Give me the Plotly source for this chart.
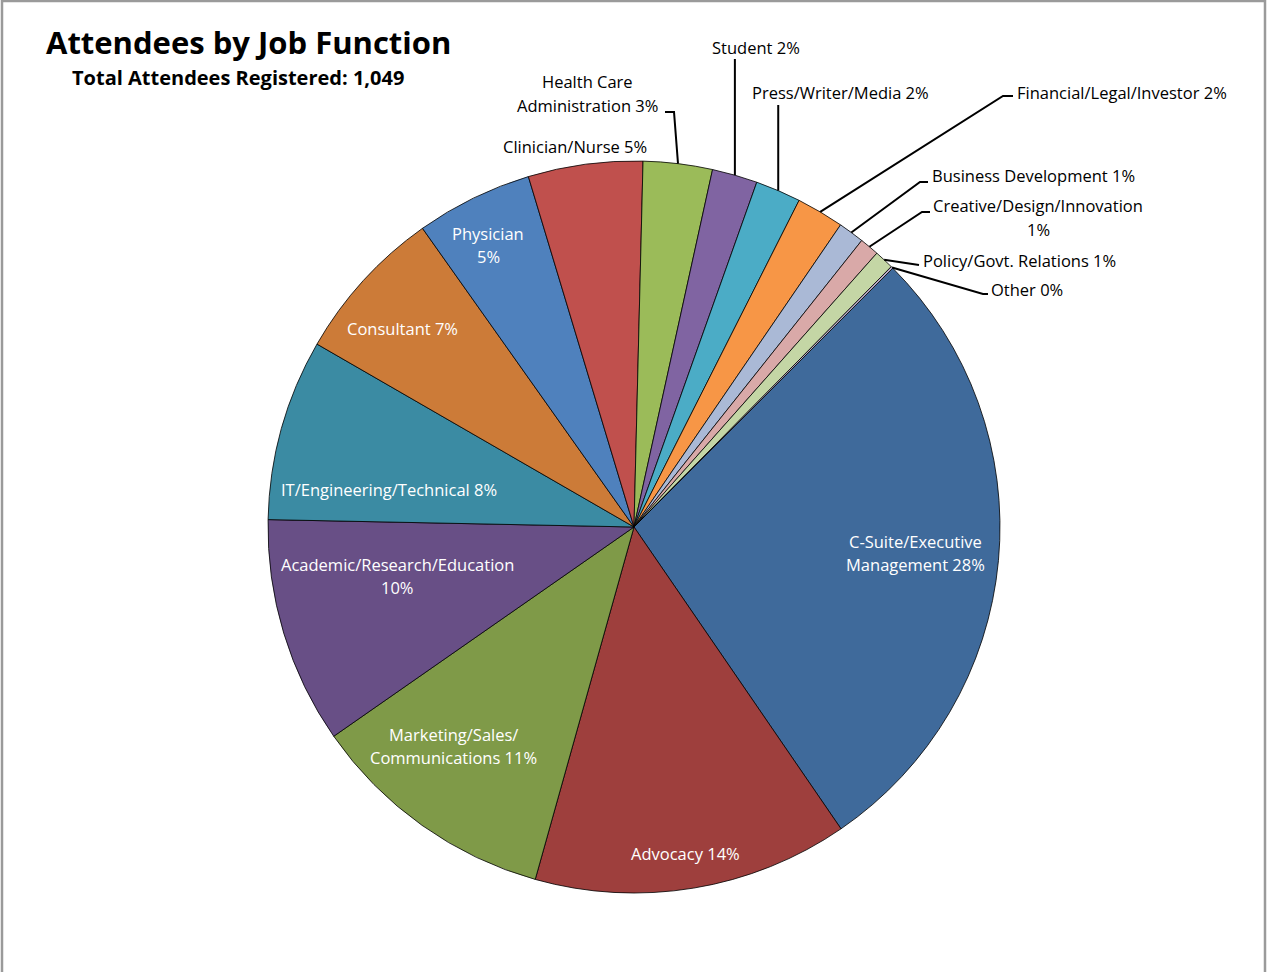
import math
import plotly.graph_objects as go

W, H = 1267, 972

# ---------------- data ----------------
categories = [
    "C-Suite/Executive Management", "Advocacy", "Marketing/Sales/Communications",
    "Academic/Research/Education", "IT/Engineering/Technical", "Consultant",
    "Physician", "Clinician/Nurse", "Health Care Administration", "Student",
    "Press/Writer/Media", "Financial/Legal/Investor", "Business Development",
    "Creative/Design/Innovation", "Policy/Govt. Relations", "Other",
]
counts = [293, 146, 115, 105, 84, 72, 54, 53, 32, 21, 21, 22, 12, 9, 9, 1]
label_text = [
    "C-Suite/Executive<br>Management 28%", "Advocacy 14%",
    "Marketing/Sales/<br>Communications 11%", "Academic/Research/Education<br>10%",
    "IT/Engineering/Technical 8%", "Consultant 7%", "Physician<br>5%",
    "Clinician/Nurse 5%", "Health Care<br>Administration 3%", "Student 2%",
    "Press/Writer/Media 2%", "Financial/Legal/Investor 2%",
    "Business Development 1%", "Creative/Design/Innovation<br>1%",
    "Policy/Govt. Relations 1%", "Other 0%",
]
colors = [
    "#3F6A9B", "#9E3F3D", "#7F9A48", "#684F86", "#3B8BA3", "#CC7B38",
    "#4F81BD", "#C0504D", "#9BBB59", "#8064A2", "#4BACC6", "#F79646",
    "#AAB9D6", "#D9A9A8", "#C4D6A5", "#B9ADCB",
]
title_text = "Attendees by Job Function"
subtitle_text = "Total Attendees Registered: 1,049"

# ---------------- layout geometry (pixels) ----------------
CX, CY, R = 634, 527, 366
ROT = 45  # degrees clockwise from 12 o'clock
LINE_GAP = 23.5

# label placement: (x, y, xanchor, inside?)
label_pos = [
    (915, 553, "center", True),
    (686, 853, "center", True),
    (453, 746, "center", True),
    (397, 576, "center", True),
    (389, 489, "center", True),
    (402, 328, "center", True),
    (488, 245, "center", True),
    (575, 146, "center", False),
    (587, 93.5, "center", False),
    (756, 47, "center", False),
    (840, 93, "center", False),
    (1015, 92, "left", False),
    (930, 175, "left", False),
    (1038, 217.5, "center", False),
    (921, 260, "left", False),
    (989, 289, "left", False),
]
# leader line intermediate points (after the slice edge anchor)
leaders = {
    8: [(674, 112), (665, 112)],
    9: [("v", 59)],
    10: [("v", 105)],
    11: [(1003, 96), (1013, 96)],
    12: [(920, 182), (928, 182)],
    13: [(922, 212), (930, 212)],
    14: [(919, 265)],
    15: [(983, 294), (988, 294)],
}


def px(x, y):
    return x / W, 1 - y / H


FONT = "Open Sans"
LSIZE = 16.5

fig = go.Figure(
    go.Pie(
        labels=categories,
        values=counts,
        sort=False,
        direction="clockwise",
        rotation=ROT,
        marker=dict(colors=colors, line=dict(color="#000000", width=0.8)),
        textinfo="none",
        hoverinfo="label+value+percent",
        domain=dict(x=[(CX - R) / W, (CX + R) / W], y=[1 - (CY + R) / H, 1 - (CY - R) / H]),
        showlegend=False,
    )
)

annotations = []
shapes = []
total = sum(counts)
cum = 0
for i, (v, txt) in enumerate(zip(counts, label_text)):
    mid = ROT + (cum + v / 2) / total * 360
    cum += v
    x, y, anchor, inside = label_pos[i]
    lines = txt.split("<br>")
    n = len(lines)
    for k, line in enumerate(lines):
        ly = y + (k - (n - 1) / 2) * LINE_GAP
        ax, ay = px(x, ly)
        annotations.append(dict(
            x=ax, y=ay, xref="paper", yref="paper", text=line, showarrow=False,
            xanchor=anchor, yanchor="middle", align="center",
            font=dict(family=FONT, size=LSIZE, color="#FFFFFF" if inside else "#000000"),
        ))
    if i in leaders:
        a = math.radians(mid)
        ex, ey = CX + R * math.sin(a), CY - R * math.cos(a)
        pts = [(ex, ey)]
        for p in leaders[i]:
            if p[0] == "v":
                pts.append((ex, p[1]))
            else:
                pts.append(p)
        path = "M " + " L ".join(f"{px(u, w)[0]:.5f},{px(u, w)[1]:.5f}" for u, w in pts)
        shapes.append(dict(type="path", xref="paper", yref="paper", path=path,
                           line=dict(color="#000000", width=2)))

annotations.append(dict(
    x=44 / W, y=px(0, 42)[1], xref="paper", yref="paper", text=f"<b>{title_text}</b>",
    showarrow=False, xanchor="left", yanchor="middle",
    font=dict(family=FONT, size=31, color="#000000"),
))
annotations.append(dict(
    x=70 / W, y=px(0, 77)[1], xref="paper", yref="paper", text=f"<b>{subtitle_text}</b>",
    showarrow=False, xanchor="left", yanchor="middle",
    font=dict(family=FONT, size=20, color="#000000"),
))

# chart-area border (top, left, right)
border_path = "M {:.5f},{:.5f} L {:.5f},{:.5f} L {:.5f},{:.5f} L {:.5f},{:.5f}".format(
    *px(2, 1000), *px(2, 1), *px(1265, 1), *px(1265, 1000))
shapes.append(dict(type="path", xref="paper", yref="paper", path=border_path,
                   line=dict(color="#9A9A9A", width=2.5)))

fig.update_layout(
    width=W, height=H,
    margin=dict(l=0, r=0, t=0, b=0),
    paper_bgcolor="#FFFFFF", plot_bgcolor="#FFFFFF",
    annotations=annotations, shapes=shapes,
    font=dict(family=FONT),
)

fig.write_html("out.html")
